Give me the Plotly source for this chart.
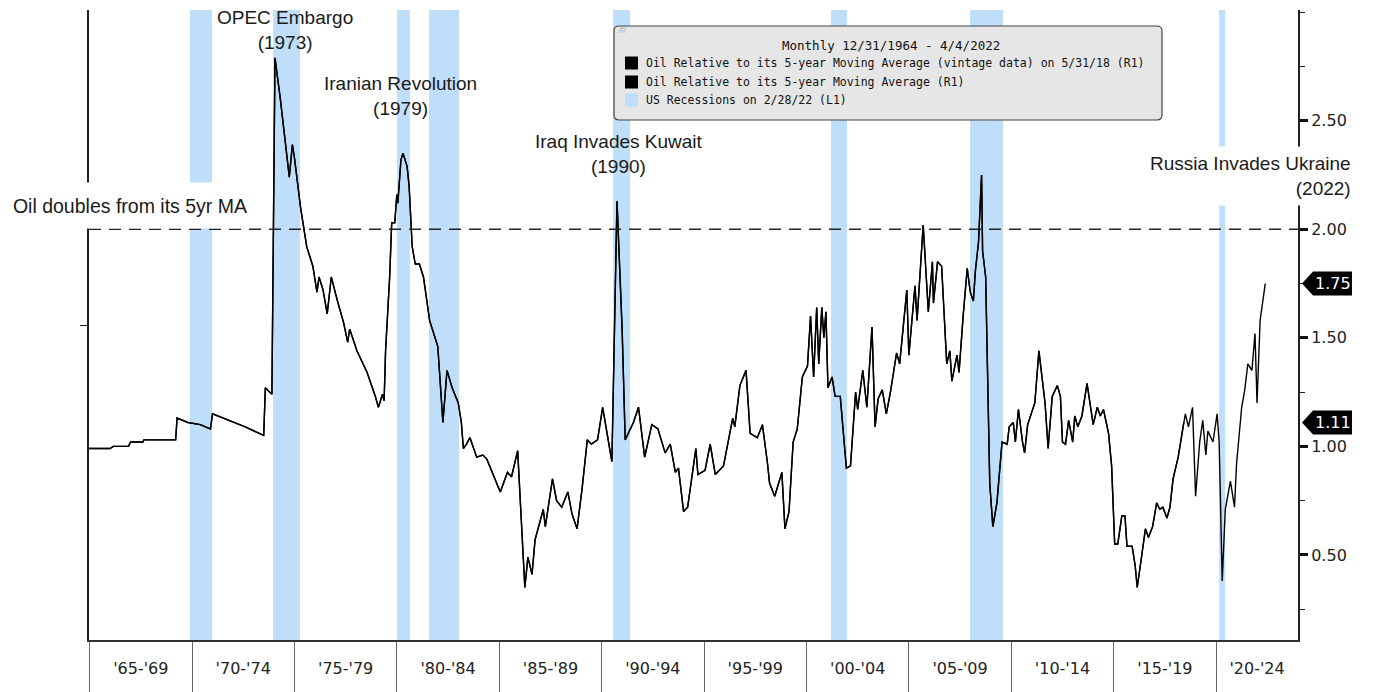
import plotly.graph_objects as go

# oil price relative to its 5-year moving average (decimal years)
year = [
    1964.97, 1965.5, 1966.0, 1966.15, 1966.9, 1967.0, 1967.6, 1967.65, 1968.5, 1969.2,
    1969.27, 1969.8, 1970.4, 1970.9, 1971.0, 1971.8, 1972.6, 1973.5, 1973.58, 1973.9,
    1974.05, 1974.3, 1974.55, 1974.75, 1974.9, 1975.0, 1975.3, 1975.6, 1975.9, 1976.1,
    1976.2, 1976.4, 1976.6, 1976.8, 1977.1, 1977.4, 1977.6, 1977.7, 1978.05, 1978.55,
    1978.95, 1979.1, 1979.3, 1979.38, 1979.45, 1979.65, 1979.75, 1979.9, 1980.0, 1980.05,
    1980.2, 1980.3, 1980.5, 1980.6, 1980.75, 1980.9, 1981.1, 1981.3, 1981.6, 1981.8,
    1982.0, 1982.25, 1982.45, 1982.7, 1983.0, 1983.15, 1983.25, 1983.4, 1983.57, 1983.9,
    1984.2, 1984.4, 1984.7, 1985.05, 1985.4, 1985.6, 1985.9, 1986.25, 1986.4, 1986.6,
    1986.75, 1987.15, 1987.25, 1987.6, 1987.8, 1988.05, 1988.35, 1988.55, 1988.8, 1989.05,
    1989.3, 1989.5, 1989.8, 1990.05, 1990.5, 1990.75, 1991.0, 1991.15, 1991.55, 1991.8,
    1992.1, 1992.45, 1992.75, 1993.1, 1993.35, 1993.6, 1993.75, 1994.0, 1994.2, 1994.4,
    1994.6, 1994.7, 1995.05, 1995.3, 1995.55, 1995.95, 1996.2, 1996.4, 1996.5, 1996.75,
    1997.05, 1997.25, 1997.6, 1997.85, 1998.1, 1998.2, 1998.45, 1998.8, 1998.95, 1999.15,
    1999.35, 1999.55, 1999.8, 2000.05, 2000.2, 2000.35, 2000.5, 2000.6, 2000.75, 2000.85,
    2000.95, 2001.05, 2001.25, 2001.4, 2001.65, 2001.95, 2002.15, 2002.4, 2002.5, 2002.75,
    2002.95, 2003.2, 2003.35, 2003.5, 2003.7, 2003.9, 2004.1, 2004.25, 2004.4, 2004.55,
    2004.7, 2004.9, 2005.0, 2005.3, 2005.4, 2005.7, 2005.95, 2006.15, 2006.2, 2006.4,
    2006.6, 2006.85, 2007.0, 2007.1, 2007.35, 2007.45, 2007.65, 2007.85, 2008.0, 2008.15,
    2008.25, 2008.4, 2008.55, 2008.6, 2008.75, 2008.95, 2009.1, 2009.3, 2009.55, 2009.8,
    2009.9, 2010.1, 2010.2, 2010.35, 2010.55, 2010.65, 2010.8, 2011.15, 2011.35, 2011.65,
    2011.8, 2012.0, 2012.25, 2012.4, 2012.5, 2012.65, 2012.8, 2013.0, 2013.1, 2013.25,
    2013.45, 2013.7, 2014.0, 2014.2, 2014.35, 2014.5, 2014.75, 2014.9, 2015.05, 2015.2,
    2015.4, 2015.55, 2015.65, 2015.9, 2016.05, 2016.15, 2016.3, 2016.55, 2016.7, 2016.9,
    2017.1, 2017.25, 2017.4, 2017.6, 2017.75, 2017.9, 2018.15, 2018.35, 2018.42, 2018.5,
    2018.65, 2018.85, 2019.0, 2019.2, 2019.35, 2019.5, 2019.6, 2019.85, 2020.05, 2020.15,
    2020.3, 2020.45, 2020.7, 2020.9, 2021.0, 2021.25, 2021.4, 2021.55, 2021.75, 2021.9,
    2022.0, 2022.15, 2022.4,
]
ratio = [
    0.99, 0.99, 0.99, 1.00, 1.00, 1.02, 1.02, 1.03, 1.03, 1.03,
    1.13, 1.11, 1.10, 1.08, 1.15, 1.12, 1.09, 1.05, 1.27, 1.24,
    2.79, 2.61, 2.40, 2.24, 2.39, 2.33, 2.10, 1.92, 1.83, 1.71,
    1.78, 1.72, 1.61, 1.78, 1.67, 1.57, 1.48, 1.54, 1.44, 1.34,
    1.23, 1.18, 1.24, 1.21, 1.44, 1.78, 2.03, 2.03, 2.16, 2.12,
    2.32, 2.35, 2.29, 2.20, 1.92, 1.84, 1.84, 1.78, 1.58, 1.52,
    1.46, 1.11, 1.35, 1.27, 1.20, 1.11, 0.99, 1.01, 1.04, 0.95,
    0.96, 0.94, 0.87, 0.79, 0.88, 0.86, 0.98, 0.35, 0.49, 0.41,
    0.57, 0.71, 0.63, 0.85, 0.75, 0.72, 0.79, 0.69, 0.62, 0.81,
    1.03, 1.01, 1.03, 1.18, 0.93, 2.13, 1.54, 1.03, 1.11, 1.18,
    0.95, 1.10, 1.08, 0.97, 1.01, 0.88, 0.90, 0.70, 0.72, 0.85,
    0.99, 0.87, 0.89, 1.01, 0.87, 0.91, 1.04, 1.13, 1.09, 1.28,
    1.35, 1.06, 1.04, 1.10, 0.92, 0.83, 0.77, 0.88, 0.62, 0.70,
    1.02, 1.08, 1.32, 1.37, 1.60, 1.32, 1.64, 1.38, 1.64, 1.50,
    1.62, 1.27, 1.32, 1.23, 1.23, 0.90, 0.91, 1.25, 1.17, 1.35,
    1.18, 1.55, 1.09, 1.22, 1.26, 1.15, 1.25, 1.34, 1.43, 1.38,
    1.52, 1.72, 1.42, 1.74, 1.58, 2.02, 1.62, 1.85, 1.66, 1.85,
    1.83, 1.38, 1.44, 1.30, 1.42, 1.34, 1.60, 1.82, 1.71, 1.67,
    1.81, 1.94, 2.25, 1.90, 1.78, 0.83, 0.63, 0.74, 1.02, 1.01,
    1.09, 1.11, 1.02, 1.17, 1.02, 0.97, 1.10, 1.20, 1.44, 1.20,
    0.99, 1.23, 1.28, 1.23, 1.02, 1.01, 1.12, 1.02, 1.14, 1.09,
    1.14, 1.29, 1.10, 1.18, 1.14, 1.17, 1.06, 0.91, 0.55, 0.55,
    0.68, 0.68, 0.54, 0.54, 0.45, 0.35, 0.45, 0.62, 0.58, 0.63,
    0.74, 0.71, 0.72, 0.67, 0.72, 0.85, 0.95, 1.06, 1.11, 1.15,
    1.09, 1.18, 0.77, 1.02, 1.12, 0.96, 1.07, 1.02, 1.15, 1.02,
    0.38, 0.71, 0.84, 0.72, 0.92, 1.18, 1.26, 1.38, 1.35, 1.52,
    1.20, 1.58, 1.75,
]
vintage_end = 2018.42

# US recessions (shaded), start / end in decimal years
rec_start = [1969.90, 1973.96, 1980.01, 1981.57, 1990.56, 2001.20, 2007.99, 2020.15]
rec_end = [1970.98, 1975.27, 1980.64, 1983.04, 1991.39, 2001.98, 2009.60, 2020.44]

# five-year buckets on the x axis
period_starts = [1965, 1970, 1975, 1980, 1985, 1990, 1995, 2000, 2005, 2010, 2015, 2020]
period_labels = ["'65-'69", "'70-'74", "'75-'79", "'80-'84", "'85-'89", "'90-'94",
                 "'95-'99", "'00-'04", "'05-'09", "'10-'14", "'15-'19", "'20-'24"]

right_ticks = [0.5, 1.0, 1.5, 2.0, 2.5]
doubling_level = 2.0

events = [
    ("OPEC Embargo<br>(1973)", 285, 30),
    ("Iranian Revolution<br>(1979)", 400, 96),
    ("Iraq Invades Kuwait<br>(1990)", 619, 154),
]

X_RANGE = [1964.97, 2024.0]
Y_RANGE = [0.108, 3.01]

# the page body has an 8px margin, so the figure is a bit smaller than the window
OFF = 8
W, H = 1392 - OFF, 692 - OFF
PL, PR, PT, PB = 89, 1298, 10, 640   # plot area in window pixels
L, T = PL - OFF, PT - OFF
R, B = W - L - (PR - PL), H - T - (PB - PT)
PW, PH = PR - PL, PB - PT


def px_x(px):
    return (px - PL) / PW


def px_y(py):
    return (PB - py) / PH


fig = go.Figure()

vx = [x for x in year if x <= vintage_end]
fig.add_trace(go.Scatter(x=vx, y=ratio[:len(vx)], mode="lines",
                         line=dict(color="black", width=1.4), showlegend=False, hoverinfo="skip"))
fig.add_trace(go.Scatter(x=year, y=ratio, mode="lines",
                         line=dict(color="black", width=1.4), showlegend=False))
# keeps the recession (left) axis alive
fig.add_trace(go.Scatter(x=[None], y=[None], yaxis="y2", showlegend=False))

for s, e in zip(rec_start, rec_end):
    fig.add_shape(type="rect", xref="x", yref="paper", x0=s, x1=e, y0=0, y1=1,
                  fillcolor="#bfdef9", line=dict(width=0), layer="below")

fig.add_shape(type="line", xref="paper", yref="y", x0=0, x1=1,
              y0=doubling_level, y1=doubling_level,
              line=dict(color="#222", width=1.5, dash="12px,8px"))

annos = []
for text, cx, cy in events:
    annos.append(dict(text=text, xref="paper", yref="paper", x=px_x(cx), y=px_y(cy),
                      xanchor="center", yanchor="middle", showarrow=False,
                      font=dict(family="Liberation Sans, Arial", size=19, color="#1a1a1a")))

annos.append(dict(text="Russia Invades Ukraine<br>(2022)", xref="paper", yref="paper",
                  x=px_x(1358), y=px_y(176), xanchor="right", yanchor="middle", align="right",
                  showarrow=False, bgcolor="white", borderpad=6,
                  font=dict(family="Liberation Sans, Arial", size=19, color="#1a1a1a")))
annos.append(dict(text="Oil doubles from its 5yr MA", xref="paper", yref="paper",
                  x=px_x(248), y=px_y(205.5), xanchor="right", yanchor="middle", align="right",
                  showarrow=False, bgcolor="white", borderpad=0, width=244, height=45,
                  font=dict(family="Liberation Sans, Arial", size=19.5, color="#1a1a1a")))

# legend box drawn by hand to match the terminal look
x0, x1, y0, y1 = px_x(614), px_x(1162), px_y(120), px_y(26)
rx, ry = 5 / PW, 5 / PH
fig.add_shape(type="path", xref="paper", yref="paper",
              path=(f"M {x0+rx},{y1} L {x1-rx},{y1} Q {x1},{y1} {x1},{y1-ry} "
                    f"L {x1},{y0+ry} Q {x1},{y0} {x1-rx},{y0} L {x0+rx},{y0} "
                    f"Q {x0},{y0} {x0},{y0+ry} L {x0},{y1-ry} Q {x0},{y1} {x0+rx},{y1} Z"),
              fillcolor="#e6e6e6", line=dict(color="#444", width=1.2), layer="above")
# little grip mark in the top-left corner of the legend
annos.append(dict(text="///", xref="paper", yref="paper", x=px_x(617), y=px_y(30),
                  xanchor="left", yanchor="middle", showarrow=False,
                  font=dict(family="DejaVu Sans", size=7, color="#999")))
legend_font = dict(family="DejaVu Sans Mono", size=11.5, color="#111")
annos.append(dict(text="Monthly 12/31/1964 - 4/4/2022", xref="paper", yref="paper",
                  x=px_x(891), y=px_y(45), xanchor="center", yanchor="middle", showarrow=False,
                  font=dict(family="DejaVu Sans Mono", size=12.5, color="#111")))
legend_items = [
    ("Oil Relative to its 5-year Moving Average (vintage data) on 5/31/18 (R1)", "black", 63),
    ("Oil Relative to its 5-year Moving Average (R1)", "black", 82),
    ("US Recessions on 2/28/22 (L1)", "#bfdef9", 100),
]
for text, col, py in legend_items:
    fig.add_shape(type="rect", xref="paper", yref="paper",
                  x0=px_x(625), x1=px_x(638), y0=px_y(py + 6.5), y1=px_y(py - 6.5),
                  fillcolor=col, line=dict(width=0), layer="above")
    annos.append(dict(text=text, xref="paper", yref="paper", x=px_x(644), y=px_y(py),
                      xanchor="left", yanchor="middle", showarrow=False, font=legend_font))

# last-value tags on the right axis
tag_h = 12 / PH * (Y_RANGE[1] - Y_RANGE[0])
for v in [ratio[-1], ratio[len(vx) - 1]]:
    tip, left, right = px_x(1302), px_x(1313), px_x(1352)
    fig.add_shape(type="path", xref="paper", yref="y",
                  path=(f"M {tip},{v} L {left},{v+tag_h} L {right},{v+tag_h} "
                        f"L {right},{v-tag_h} L {left},{v-tag_h} Z"),
                  fillcolor="black", line=dict(width=0), layer="above")
    annos.append(dict(text=f"{v:.2f}", xref="paper", yref="y", x=px_x(1332.5), y=v,
                      xanchor="center", yanchor="middle", showarrow=False,
                      font=dict(family="DejaVu Sans", size=16, color="white")))

mids = [s + 2.5 for s in period_starts[:-1]] + [(period_starts[-1] + X_RANGE[1]) / 2]

fig.update_layout(
    width=W, height=H,
    margin=dict(l=L, r=R, t=T, b=B),
    plot_bgcolor="white", paper_bgcolor="white",
    showlegend=False,
    annotations=annos,
    xaxis=dict(
        range=X_RANGE, showgrid=False, zeroline=False,
        showline=True, linecolor="#333", linewidth=1.5,
        tickmode="array", tickvals=mids, ticktext=period_labels, ticks="",
        ticklabelstandoff=13,
        tickfont=dict(family="DejaVu Sans", size=16, color="#222"),
        minor=dict(ticks="outside", tickmode="array", tickvals=period_starts,
                   ticklen=50, tickcolor="#666", tickwidth=1),
    ),
    yaxis=dict(
        range=Y_RANGE, side="right", showgrid=False, zeroline=False,
        showline=True, linecolor="#222", linewidth=2,
        tickmode="array", tickvals=right_ticks, ticktext=[f"{t:.2f}" for t in right_ticks],
        ticks="outside", ticklen=8, tickwidth=2.5, tickcolor="#111",
        tickfont=dict(family="DejaVu Sans", size=16, color="#222"),
        minor=dict(ticks="outside", dtick=0.25, tick0=0, ticklen=5, tickwidth=1.2,
                   tickcolor="#222"),
    ),
    yaxis2=dict(
        range=[0, 1], overlaying="y", side="left", showgrid=False, zeroline=False,
        showline=True, linecolor="#222", linewidth=1.5,
        tickmode="array", tickvals=[0.5], ticks="outside", ticklen=7, tickcolor="#222",
        showticklabels=False,
    ),
)

fig.write_html("out.html")
